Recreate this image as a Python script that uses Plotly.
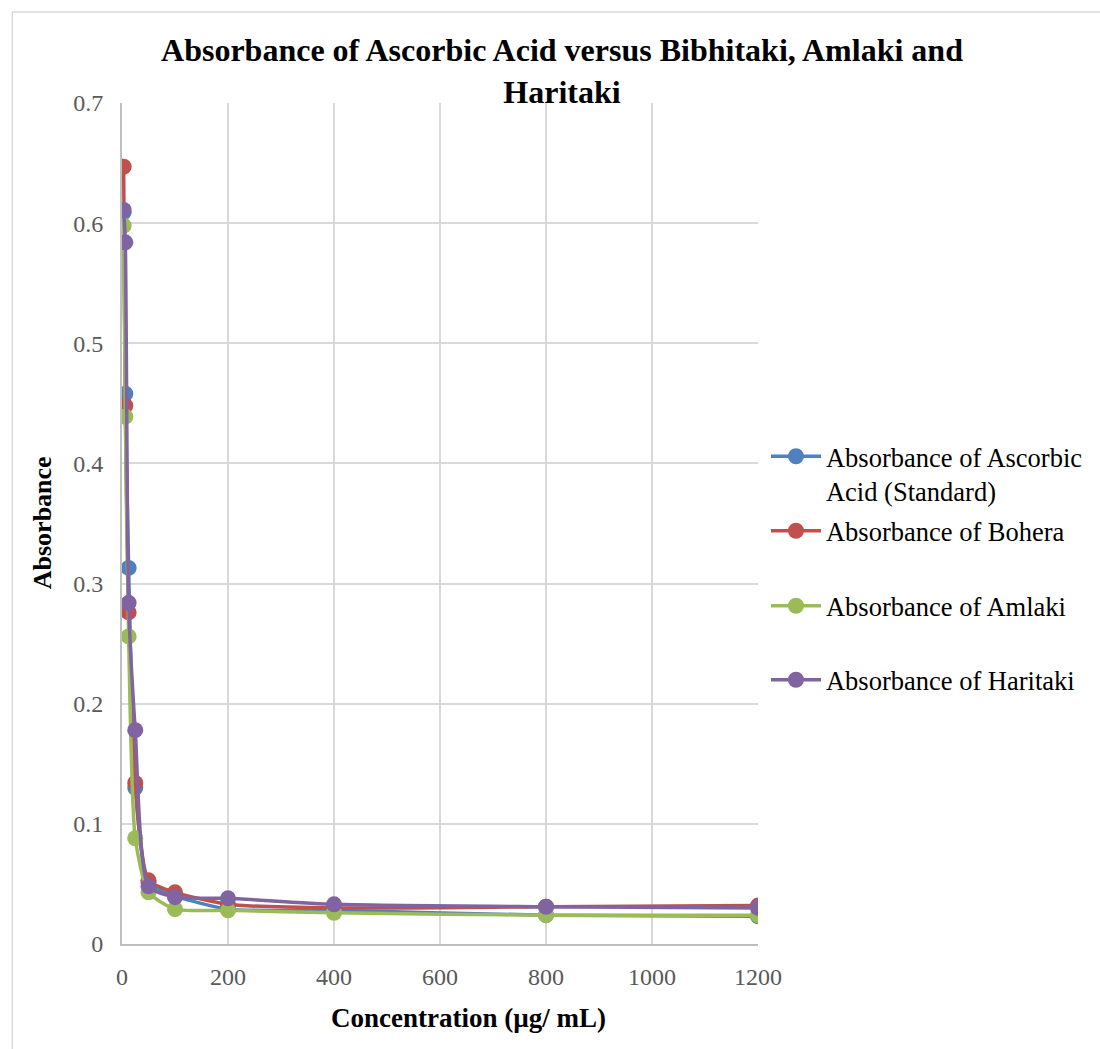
import plotly.graph_objects as go

concentration = [3.125, 6.25, 12.5, 25, 50, 100, 200, 400, 800, 1200]
ascorbic = [0.609, 0.458, 0.313, 0.130, 0.051, 0.040, 0.029, 0.028, 0.024, 0.023]
bohera = [0.647, 0.448, 0.276, 0.134, 0.053, 0.043, 0.033, 0.030, 0.031, 0.032]
amlaki = [0.598, 0.439, 0.256, 0.088, 0.043, 0.029, 0.028, 0.026, 0.024, 0.024]
haritaki = [0.611, 0.584, 0.284, 0.178, 0.048, 0.039, 0.038, 0.033, 0.031, 0.030]

series_names = ["Absorbance of Ascorbic<br>Acid (Standard)", "Absorbance of Bohera",
                "Absorbance of Amlaki", "Absorbance of Haritaki"]
series_values = [ascorbic, bohera, amlaki, haritaki]
colors = ["#4F81BD", "#C0504D", "#9BBB59", "#8064A2"]

x_ticks = [0, 200, 400, 600, 800, 1000, 1200]
y_ticks = [0, 0.1, 0.2, 0.3, 0.4, 0.5, 0.6, 0.7]
y_tick_labels = ["0", "0.1", "0.2", "0.3", "0.4", "0.5", "0.6", "0.7"]

FONT = "Liberation Serif, Times New Roman, serif"

L, R, T, B = 122, 760, 103, 944
W, H = 1100, 1049


def px_x(px):
    return (px - L) / (R - L)


def px_y(py):
    return (B - py) / (B - T)


legend_ids = ["legend", "legend2", "legend3", "legend4"]
legend_centers = [473.5, 531, 606, 680]

fig = go.Figure()
for i, (name, vals, col) in enumerate(zip(series_names, series_values, colors)):
    fig.add_trace(go.Scatter(
        x=concentration, y=vals, name=name, mode="lines+markers",
        line=dict(color=col, width=3.5, shape="spline", smoothing=0.6),
        marker=dict(color=col, size=16),
        legend=legend_ids[i],
    ))

legend_common = dict(xanchor="left", yanchor="middle",
                     font=dict(family=FONT, size=26.5, color="black"),
                     itemwidth=50, bgcolor="rgba(0,0,0,0)", valign="top")
legend_layout = {}
for lid, cy in zip(legend_ids, legend_centers):
    legend_layout[lid] = dict(x=px_x(768), y=px_y(cy), **legend_common)

fig.update_layout(
    width=W, height=H,
    margin=dict(l=L, r=W - R, t=T, b=H - B),
    paper_bgcolor="white", plot_bgcolor="white",
    font=dict(family=FONT, size=24, color="#404040"),
    title=dict(text="<b>Absorbance of Ascorbic Acid versus Bibhitaki, Amlaki and<br>Haritaki</b>",
               x=562 / W, xanchor="center", y=1 - 61 / H, yanchor="top",
               font=dict(family=FONT, size=32, color="black")),
    showlegend=True,
    **legend_layout,
)
fig.update_xaxes(range=[0, 1200], tickvals=x_ticks, ticktext=[str(v) for v in x_ticks],
                 showgrid=True, gridcolor="#d9d9d9", gridwidth=1.5,
                 showline=True, linecolor="#bfbfbf", linewidth=2,
                 ticks="", ticklabelstandoff=10, zeroline=False,
                 tickfont=dict(family=FONT, size=24, color="#595959"))
fig.update_yaxes(range=[0, 0.7], tickvals=y_ticks, ticktext=y_tick_labels,
                 showgrid=True, gridcolor="#d9d9d9", gridwidth=1.5,
                 showline=True, linecolor="#bfbfbf", linewidth=2,
                 ticks="", ticklabelstandoff=12, zeroline=False,
                 tickfont=dict(family=FONT, size=24, color="#595959"))

fig.add_annotation(text="<b>Concentration (µg/ mL)</b>", xref="paper", yref="paper",
                   x=px_x(470), y=px_y(1018), xanchor="center", yanchor="middle",
                   showarrow=False, font=dict(family=FONT, size=27, color="black"))
fig.add_annotation(text="<b>Absorbance</b>", xref="paper", yref="paper",
                   x=px_x(42), y=px_y(523), xanchor="center", yanchor="middle",
                   textangle=-90, showarrow=False,
                   font=dict(family=FONT, size=26, color="black"))

fig.add_shape(type="rect", xref="paper", yref="paper",
              x0=px_x(12), x1=px_x(1115), y0=px_y(1070), y1=px_y(12),
              line=dict(color="#d9d9d9", width=1.5), layer="below")

fig.write_html("out.html")
